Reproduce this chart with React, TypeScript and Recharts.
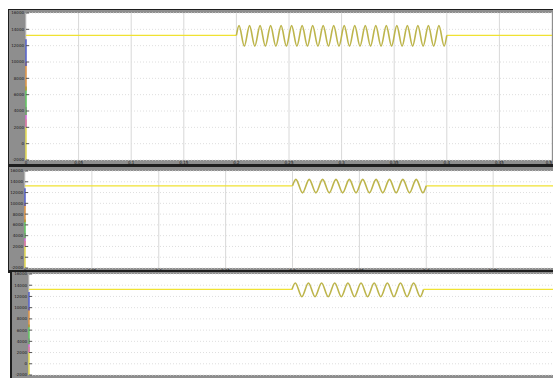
import React from 'react';
import { LineChart, Line, XAxis, YAxis, CartesianGrid } from 'recharts';

const topTimeTicks = [0, 0.05, 0.1, 0.15, 0.2, 0.25, 0.3, 0.35, 0.4, 0.45, 0.5];
const lowerTimeTicks = [0, 0.05, 0.1, 0.15, 0.2, 0.25, 0.3, 0.35];
const valueTicks = [-2000, 0, 2000, 4000, 6000, 8000, 10000, 12000, 14000, 16000];

const steadyLevel = 13250;
const halfCycle = 0.005; // 100 Hz ripple

// peak / trough of every half cycle while the disturbance is on
const topRipple = [
  14450, 11950, 14450, 11950, 14450, 11950, 14450, 11950, 14450, 11950,
  14450, 11950, 14450, 11950, 14450, 11950, 14450, 11950, 14450, 11950,
  14450, 11950, 14450, 11950, 14450, 11950, 14450, 11950, 14450, 11950,
  14450, 11950, 14450, 11950, 14450, 11950, 14450, 11950, 14450, 11950,
];
const middleRipple = [
  14450, 11950, 14450, 11950, 14450, 11950, 14450, 11950, 14450, 11950,
  14450, 11950, 14450, 11950, 14450, 11950, 14450, 11950, 14450, 11950,
];
const bottomRipple = [
  14400, 11950, 14400, 11950, 14400, 11950, 14400, 11950, 14400, 11950,
  14400, 11950, 14400, 11950, 14400, 11950, 14400, 11950, 14400, 11950,
];

// other signals jumping up at t = 0
const startupColors = ['#e8dc30', '#d04ad0', '#3cbf3c', '#e0801c', '#3040c8'];
const startupFrom = [-2000, 2000, 3500, 6500, 9500];
const startupTo = [3000, 4500, 7000, 10000, 12800];

const startupSeries = startupColors.map((color, i) => ({
  color,
  data: [{ t: 0, v: startupFrom[i] }, { t: 0, v: startupTo[i] }],
}));

const buildRipple = (start: number, end: number, extremes: number[]) => [
  { t: start, v: steadyLevel },
  ...extremes.map((v, i) => ({ t: start + halfCycle * (i + 0.5), v })),
  { t: end, v: steadyLevel },
];

type PanelProps = {
  left: number;
  top: number;
  width: number;
  height: number;
  yAxisWidth: number;
  xAxisHeight: number;
  marginTop: number;
  xMax: number;
  xTicks: number[];
  showXLabels: boolean;
  rippleStart: number;
  rippleEnd: number;
  ripple: number[];
};

const tickStyle = { fontSize: 4, fill: '#1a1a1a', fontFamily: 'DejaVu Sans' };

// time labels; the one at the right border is pulled left so it stays inside
const TimeTick = (props: any) => {
  const { x, y, payload, index, visibleTicksCount } = props;
  const last = index === visibleTicksCount - 1 && x > 540;
  return (
    <text x={x} y={y + 3.5} textAnchor={last ? 'end' : 'middle'} {...tickStyle}>
      {payload.value}
    </text>
  );
};

const ScopePanel: React.FC<PanelProps> = (p) => {
  const before = [{ t: 0, v: steadyLevel }, { t: p.rippleStart, v: steadyLevel }];
  const after = [{ t: p.rippleEnd, v: steadyLevel }, { t: p.xMax, v: steadyLevel }];
  const wave = buildRipple(p.rippleStart, p.rippleEnd, p.ripple);
  return (
    <div style={{ position: 'absolute', left: p.left, top: p.top }}>
      <LineChart width={p.width} height={p.height} margin={{ top: p.marginTop, right: 0, bottom: 0, left: 0 }}>
        <CartesianGrid fill="#ffffff" horizontal={false} stroke="#d8d8d8" />
        <CartesianGrid vertical={false} stroke="#dedede" strokeDasharray="1 2" />
        <XAxis
          dataKey="t"
          type="number"
          domain={[0, p.xMax]}
          ticks={p.xTicks}
          interval={0}
          height={p.xAxisHeight}
          tick={p.showXLabels ? <TimeTick /> : false}
          tickSize={0}
          tickMargin={0}
          axisLine={false}
        />
        <YAxis
          dataKey="v"
          type="number"
          domain={[-2000, 16000]}
          ticks={valueTicks}
          interval={0}
          width={p.yAxisWidth}
          tick={tickStyle}
          tickSize={-3}
          tickMargin={5}
          tickLine={{ stroke: '#555' }}
          axisLine={false}
        />
        {startupSeries.map((s, i) => (
          <Line key={i} data={s.data} dataKey="v" stroke={s.color} strokeWidth={1.2} dot={false} isAnimationActive={false} />
        ))}
        <Line data={before} dataKey="v" stroke="#f0e232" strokeWidth={1.3} dot={false} isAnimationActive={false} />
        <Line data={after} dataKey="v" stroke="#f0e232" strokeWidth={1.3} dot={false} isAnimationActive={false} />
        <Line data={wave} dataKey="v" type="monotone" stroke="#bdb54c" strokeWidth={1.6} dot={false} isAnimationActive={false} />
      </LineChart>
    </div>
  );
};

const App: React.FC = () => {
  return (
    <div style={{ position: 'absolute', left: 0, top: 0, width: 553, height: 378, overflow: 'hidden', background: '#fff' }}>
      {/* dark scope frames */}
      <div style={{ position: 'absolute', left: 8, top: 9, width: 560, height: 264, background: '#1e1e1e' }} />
      <div style={{ position: 'absolute', left: 10, top: 270, width: 560, height: 110, background: '#1e1e1e' }} />
      {/* grey axis areas */}
      <div style={{ position: 'absolute', left: 9, top: 10, width: 560, height: 154, background: '#8e8e8e' }} />
      <div style={{ position: 'absolute', left: 9, top: 167, width: 560, height: 103, background: '#8e8e8e' }} />
      <div style={{ position: 'absolute', left: 12, top: 272, width: 560, height: 110, background: '#8e8e8e' }} />

      <ScopePanel left={9} top={10} width={543} height={154} yAxisWidth={17} xAxisHeight={4} marginTop={3}
        xMax={0.5} xTicks={topTimeTicks} showXLabels rippleStart={0.2} rippleEnd={0.4} ripple={topRipple} />
      <ScopePanel left={9} top={168} width={551} height={103} yAxisWidth={16} xAxisHeight={3} marginTop={3}
        xMax={0.4} xTicks={lowerTimeTicks} showXLabels rippleStart={0.2} rippleEnd={0.3} ripple={middleRipple} />
      <ScopePanel left={12} top={272} width={543} height={109} yAxisWidth={17} xAxisHeight={6} marginTop={2}
        xMax={0.4} xTicks={lowerTimeTicks} showXLabels={false} rippleStart={0.2} rippleEnd={0.3} ripple={bottomRipple} />
    </div>
  );
};

export default App;
